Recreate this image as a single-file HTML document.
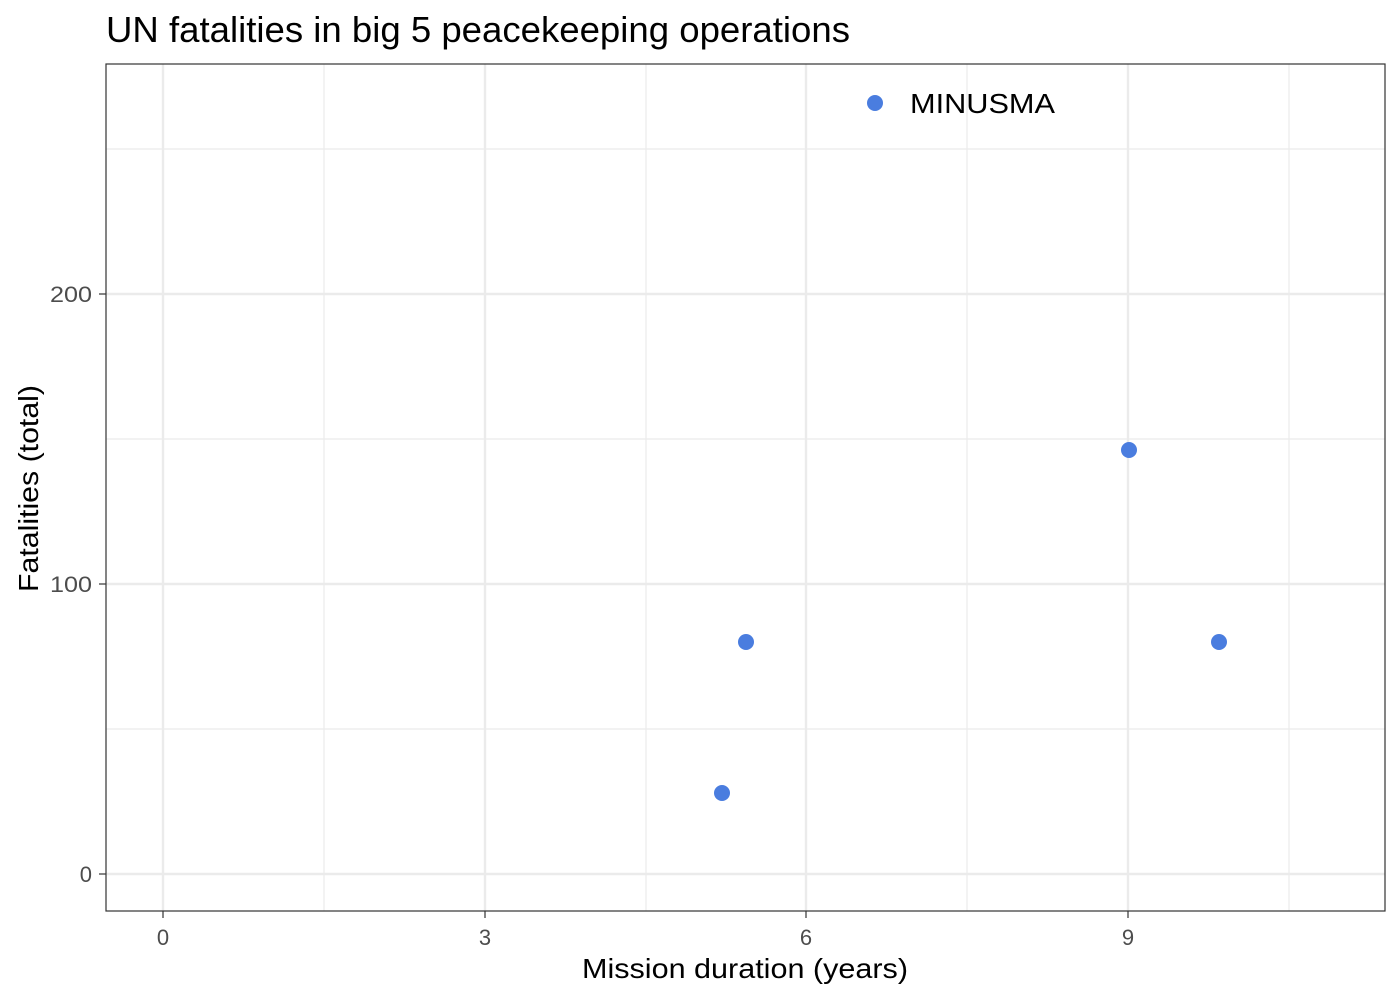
<!DOCTYPE html>
<html><head><style>body{margin:0;background:#fff}svg{display:block}</style></head>
<body>
<svg width="1400" height="1000" xmlns="http://www.w3.org/2000/svg" font-family="Liberation Sans, Arial, sans-serif">
<rect width="1400" height="1000" fill="#fff"/>
<text x="106" y="42" font-size="36" fill="#000" textLength="744" lengthAdjust="spacingAndGlyphs">UN fatalities in big 5 peacekeeping operations</text>
<g stroke="#ebebeb" stroke-width="1.2">
<line x1="324" y1="64" x2="324" y2="911"/><line x1="646" y1="64" x2="646" y2="911"/>
<line x1="967" y1="64" x2="967" y2="911"/><line x1="1289" y1="64" x2="1289" y2="911"/>
<line x1="106" y1="729" x2="1385" y2="729"/><line x1="106" y1="439" x2="1385" y2="439"/><line x1="106" y1="149" x2="1385" y2="149"/>
</g>
<g stroke="#ebebeb" stroke-width="2.4">
<line x1="163" y1="64" x2="163" y2="911"/><line x1="485" y1="64" x2="485" y2="911"/>
<line x1="806" y1="64" x2="806" y2="911"/><line x1="1128" y1="64" x2="1128" y2="911"/>
<line x1="106" y1="874" x2="1385" y2="874"/><line x1="106" y1="584" x2="1385" y2="584"/><line x1="106" y1="294" x2="1385" y2="294"/>
</g>
<rect x="106" y="64" width="1279" height="847" fill="none" stroke="#333" stroke-width="1.2"/>
<g stroke="#333" stroke-width="1.2">
<line x1="163" y1="911" x2="163" y2="918"/><line x1="485" y1="911" x2="485" y2="918"/>
<line x1="806" y1="911" x2="806" y2="918"/><line x1="1128" y1="911" x2="1128" y2="918"/>
<line x1="99" y1="874" x2="106" y2="874"/><line x1="99" y1="584" x2="106" y2="584"/><line x1="99" y1="294" x2="106" y2="294"/>
</g>
<g font-size="22" fill="#4d4d4d" text-anchor="middle">
<text x="163" y="945">0</text><text x="485" y="945">3</text><text x="806" y="945">6</text><text x="1128" y="945">9</text>
</g>
<g font-size="22" fill="#4d4d4d" text-anchor="end">
<text x="92" y="882">0</text><text x="92" y="592" textLength="42" lengthAdjust="spacingAndGlyphs">100</text><text x="92" y="302" textLength="42" lengthAdjust="spacingAndGlyphs">200</text>
</g>
<text x="582" y="978" font-size="28" fill="#000" textLength="326" lengthAdjust="spacingAndGlyphs">Mission duration (years)</text>
<text transform="translate(38,592) rotate(-90)" font-size="28" fill="#000" textLength="207" lengthAdjust="spacingAndGlyphs">Fatalities (total)</text>
<g fill="#4a7ddf">
<circle cx="722" cy="793" r="8"/><circle cx="746" cy="642" r="8"/><circle cx="1129" cy="450" r="8"/><circle cx="1219" cy="642" r="8"/>
<circle cx="875" cy="103" r="8"/>
</g>
<text x="910" y="113" font-size="28" fill="#000" textLength="145" lengthAdjust="spacingAndGlyphs">MINUSMA</text>
</svg>
</body></html>
